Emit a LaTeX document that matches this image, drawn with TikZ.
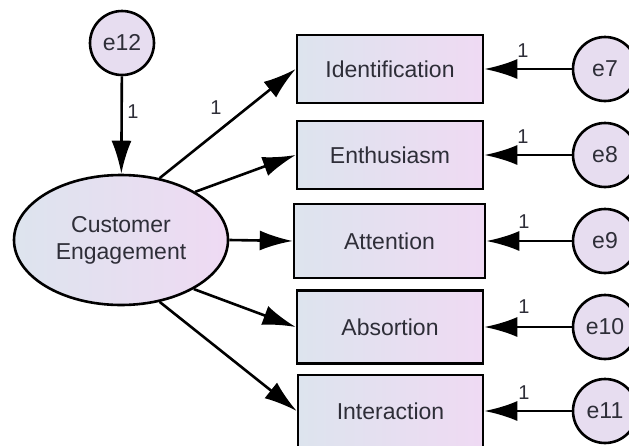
\documentclass[tikz,border=0pt]{standalone}
\usepackage{fontspec}
\setmainfont{Liberation Sans}
\usetikzlibrary{arrows.meta,shapes.geometric}
\definecolor{fillL}{HTML}{DDE4EE}
\definecolor{fillR}{HTML}{EFDAF3}
\definecolor{circfill}{HTML}{E7DDF0}
\definecolor{txt}{HTML}{2E2E38}
\tikzset{
  obs/.style={draw=black, line width=2.6pt, left color=fillL, right color=fillR,
    inner sep=0pt, text=txt, font=\fontsize{23}{27}\selectfont},
  lat/.style={ellipse, draw=black, line width=2.6pt, left color=fillL, right color=fillR,
    inner sep=0pt, minimum width=214pt, minimum height=130pt, align=center,
    text=txt, font=\fontsize{23}{27}\selectfont},
  err/.style={circle, draw=black, line width=2.6pt, fill=circfill, inner sep=0pt,
    minimum size=64pt, text=txt, font=\fontsize{23}{27}\selectfont},
  path/.style={line width=2.6pt, -{Latex[length=33pt,width=20pt]}},
  one/.style={font=\fontsize{20}{22}\selectfont, text=txt, inner sep=0pt}
}
\begin{document}
\begin{tikzpicture}[x=1pt,y=-1pt]
\clip (0,0) rectangle (629,445);
\fill[white] (0,0) rectangle (629,445);
% latent
\node[lat] (ce) at (121,240) {Customer\\Engagement};
\node[err] (e12) at (122,43) {e12};
% indicators
\node[obs, minimum width=186pt, minimum height=68pt] (b1) at (390,69) {Identification};
\node[obs, minimum width=186pt, minimum height=68pt] (b2) at (390,155) {Enthusiasm};
\node[obs, minimum width=191pt, minimum height=74pt] (b3) at (389.5,241) {Attention};
\node[obs, minimum width=186pt, minimum height=73pt] (b4) at (390,327) {Absortion};
\node[obs, minimum width=185pt, minimum height=72pt] (b5) at (390.5,411) {Interaction};
% error terms
\node[err] (e7) at (605,69) {e7};
\node[err] (e8) at (605,155) {e8};
\node[err] (e9) at (605,241) {e9};
\node[err] (e10) at (605,327) {e10};
\node[err] (e11) at (605,411) {e11};
% paths
\draw[path] (e12) -- (ce);
\draw[path] (ce.58) -- (b1.west);
\draw[path] (ce.33) -- (b2.west);
\draw[path] (ce.0) -- (b3.west);
\draw[path] (ce.-34) -- (b4.west);
\draw[path] (ce.-58) -- (b5.west);
\draw[path] (e7) -- (b1);
\draw[path] (e8) -- (b2);
\draw[path] (e9) -- (b3);
\draw[path] (e10) -- (b4);
\draw[path] (e11) -- (b5);
% labels
\node[one] (l12) at (133,112) {1};
\node[one] (lce) at (216,108) {1};
\node[one] (l7) at (523,51) {1};
\node[one] (l8) at (523,137) {1};
\node[one] (l9) at (524,222) {1};
\node[one] (l10) at (524,307) {1};
\node[one] (l11) at (524,393) {1};
\end{tikzpicture}
\end{document}
